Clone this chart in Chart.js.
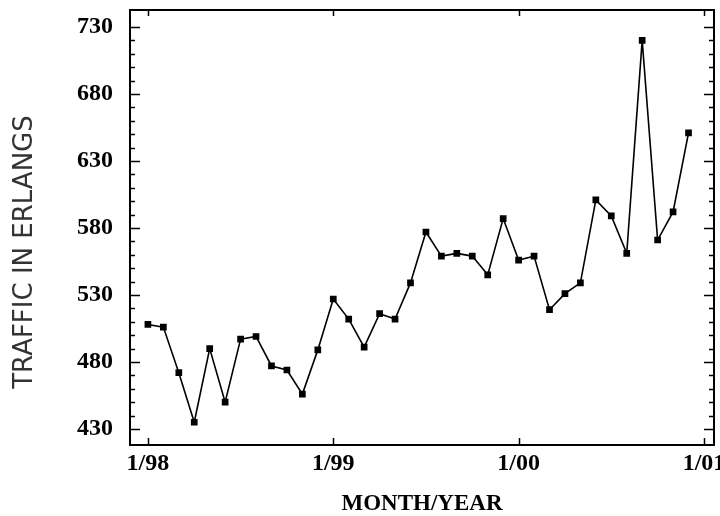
<!DOCTYPE html>
<html>
<head>
<meta charset="utf-8">
<script src="https://cdn.jsdelivr.net/npm/chart.js@4.4.1/dist/chart.umd.min.js"></script>
<style>
  html, body { margin: 0; padding: 0; background: #fff; }
  #wrap { width: 720px; height: 516px; }
</style>
</head>
<body>
<div id="wrap"><canvas id="traffic"></canvas></div>
<script>
// monthly traffic, jan 1998 .. dec 2000
const months = ['1/98','2/98','3/98','4/98','5/98','6/98','7/98','8/98','9/98','10/98','11/98','12/98',
                '1/99','2/99','3/99','4/99','5/99','6/99','7/99','8/99','9/99','10/99','11/99','12/99',
                '1/00','2/00','3/00','4/00','5/00','6/00','7/00','8/00','9/00','10/00','11/00','12/00'];
const traffic = [508, 506, 472, 435, 490, 450, 497, 499, 477, 474, 456, 489,
                 527, 512, 491, 516, 512, 539, 577, 559, 561, 559, 545, 587,
                 556, 559, 519, 531, 539, 601, 589, 561, 720, 571, 592, 651];
const xTickLabels = ['1/98', '1/99', '1/00', '1/01'];
const yTicks = [430, 480, 530, 580, 630, 680, 730];
const yMinorStep = 10;

const points = months.map((m, i) => ({ x: i, y: traffic[i] }));

const tickFont = { family: 'Liberation Serif', weight: 'bold', size: 24, lineHeight: 1 };

// box round the plot, inward tick marks, and the rotated y title
const frameTicks = {
    id: 'frameTicks',
    afterDatasetsDraw(chart) {
        const { ctx, chartArea: a, scales: { x, y } } = chart;
        ctx.save();
        ctx.strokeStyle = '#000';
        ctx.lineWidth = 2;
        ctx.strokeRect(a.left, a.top, a.right - a.left, a.bottom - a.top);

        ctx.lineWidth = 1.5;
        ctx.beginPath();
        for (let v = yTicks[0]; v <= yTicks[yTicks.length - 1]; v += yMinorStep) {
            const py = Math.round(y.getPixelForValue(v)) + 0.5;
            const len = yTicks.includes(v) ? 10 : 5;
            ctx.moveTo(a.left, py); ctx.lineTo(a.left + len, py);
            ctx.moveTo(a.right, py); ctx.lineTo(a.right - len, py);
        }
        x.ticks.forEach(t => {
            const px = Math.round(x.getPixelForValue(t.value)) + 0.5;
            ctx.moveTo(px, a.bottom); ctx.lineTo(px, a.bottom - 7);
            ctx.moveTo(px, a.top); ctx.lineTo(px, a.top + 6);
        });
        ctx.stroke();

        ctx.translate(25, 252);
        ctx.rotate(-Math.PI / 2);
        ctx.fillStyle = '#333';
        ctx.font = '26px "DejaVu Sans"';
        ctx.textAlign = 'center';
        ctx.textBaseline = 'middle';
        ctx.fillText('TRAFFIC IN ERLANGS', 0, 0);
        ctx.restore();
    }
};

new Chart(document.getElementById('traffic'), {
    type: 'line',
    data: {
        datasets: [{
            label: 'Traffic',
            data: points,
            borderColor: '#000',
            borderWidth: 1.6,
            backgroundColor: '#000',
            pointStyle: 'rect',
            pointRadius: 3.6,
            pointHoverRadius: 3.6,
            tension: 0
        }]
    },
    options: {
        responsive: true,
        maintainAspectRatio: false,
        animation: false,
        layout: { padding: { top: 10, right: 6, left: 0, bottom: 0 } },
        plugins: {
            legend: { display: false },
            tooltip: { enabled: false }
        },
        scales: {
            x: {
                type: 'linear',
                min: -1.16,
                max: 36.65,
                grid: { display: false, drawTicks: false },
                border: { display: false },
                title: {
                    display: true,
                    text: 'MONTH/YEAR',
                    color: '#000',
                    font: { family: 'Liberation Serif', weight: 'bold', size: 23, lineHeight: 1 },
                    padding: { top: 0, bottom: 0 }
                },
                afterBuildTicks: scale => {
                    scale.ticks = xTickLabels.map((l, i) => ({ value: i * 12 }));
                },
                afterFit: scale => {
                    scale.height = 71;
                    scale.paddingLeft = 0;
                    scale.paddingRight = 0;
                },
                ticks: {
                    autoSkip: false,
                    maxRotation: 0,
                    padding: 7,
                    color: '#000',
                    font: tickFont,
                    callback: (v, i) => xTickLabels[i]
                }
            },
            y: {
                min: 418,
                max: 742.7,
                grid: { display: false, drawTicks: false },
                border: { display: false },
                afterBuildTicks: scale => {
                    scale.ticks = yTicks.map(v => ({ value: v }));
                },
                afterFit: scale => {
                    scale.width = 130;
                    scale.paddingTop = 0;
                    scale.paddingBottom = 0;
                },
                ticks: {
                    padding: 17,
                    color: '#000',
                    font: tickFont
                }
            }
        }
    },
    plugins: [frameTicks]
});
</script>
</body>
</html>
